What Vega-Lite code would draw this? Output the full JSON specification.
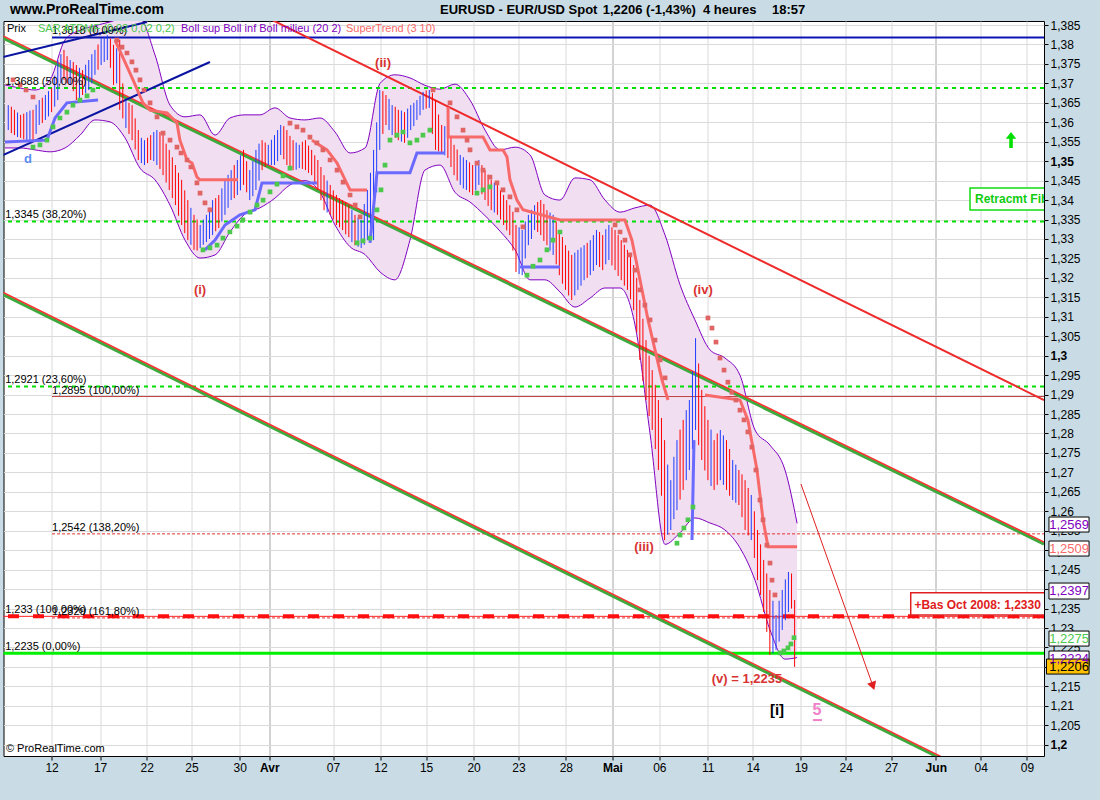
{
"$schema":"https://vega.github.io/schema/vega-lite/v6.json",
"width":1040.5,"height":735,
"autosize":{"type":"none"},
"padding":{"left":3.5,"top":21,"right":56,"bottom":44},
"background":"#c9dce5",
"view":{"fill":"white","stroke":"#000000","strokeWidth":1},
"config":{"font":"Liberation Sans","text":{"font":"Liberation Sans"},"axis":{"labelOverlap":false,"labelSeparation":0,"labelBound":false},"axisY":{"labelOverlap":false}},
"datasets":{
"bars":[
{"t":-2.8,"h":1.3644,"l":1.3580,"d":"u"},{"t":-2.4,"h":1.3632,"l":1.3567,"d":"d"},{"t":-2.0,"h":1.3619,"l":1.3560,"d":"d"},{"t":-1.6,"h":1.3626,"l":1.3554,"d":"u"},{"t":-1.2,"h":1.3632,"l":1.3554,"d":"d"},{"t":-0.8,"h":1.3657,"l":1.3593,"d":"u"},{"t":-0.4,"h":1.3670,"l":1.3606,"d":"u"},{"t":0.0,"h":1.3688,"l":1.3626,"d":"d"},{"t":0.4,"h":1.3760,"l":1.3657,"d":"u"},{"t":0.8,"h":1.3786,"l":1.3709,"d":"d"},{"t":1.2,"h":1.3760,"l":1.3696,"d":"u"},{"t":1.6,"h":1.3747,"l":1.3657,"d":"d"},{"t":2.0,"h":1.3734,"l":1.3670,"d":"d"},{"t":2.4,"h":1.3760,"l":1.3683,"d":"u"},{"t":2.8,"h":1.3786,"l":1.3722,"d":"u"},{"t":3.2,"h":1.3817,"l":1.3747,"d":"u"},{"t":3.6,"h":1.3824,"l":1.3760,"d":"u"},{"t":4.0,"h":1.3799,"l":1.3696,"d":"d"},{"t":4.4,"h":1.3812,"l":1.3632,"d":"d"},{"t":4.8,"h":1.3657,"l":1.3585,"d":"u"},{"t":5.2,"h":1.3644,"l":1.3554,"d":"d"},{"t":5.6,"h":1.3580,"l":1.3503,"d":"d"},{"t":6.0,"h":1.3554,"l":1.3490,"d":"u"},{"t":6.4,"h":1.3567,"l":1.3503,"d":"d"},{"t":6.8,"h":1.3580,"l":1.3490,"d":"u"},{"t":7.2,"h":1.3567,"l":1.3464,"d":"d"},{"t":7.6,"h":1.3529,"l":1.3426,"d":"d"},{"t":8.0,"h":1.3490,"l":1.3387,"d":"d"},{"t":8.4,"h":1.3452,"l":1.3336,"d":"d"},{"t":8.8,"h":1.3400,"l":1.3297,"d":"d"},{"t":9.2,"h":1.3362,"l":1.3272,"d":"d"},{"t":9.6,"h":1.3336,"l":1.3277,"d":"u"},{"t":10.0,"h":1.3362,"l":1.3292,"d":"u"},{"t":10.4,"h":1.3400,"l":1.3310,"d":"u"},{"t":10.8,"h":1.3413,"l":1.3328,"d":"d"},{"t":11.2,"h":1.3452,"l":1.3362,"d":"u"},{"t":11.6,"h":1.3477,"l":1.3400,"d":"u"},{"t":12.0,"h":1.3503,"l":1.3413,"d":"u"},{"t":12.4,"h":1.3529,"l":1.3439,"d":"d"},{"t":12.8,"h":1.3477,"l":1.3400,"d":"u"},{"t":13.2,"h":1.3529,"l":1.3426,"d":"u"},{"t":13.6,"h":1.3554,"l":1.3477,"d":"d"},{"t":14.0,"h":1.3542,"l":1.3490,"d":"u"},{"t":14.4,"h":1.3567,"l":1.3490,"d":"u"},{"t":14.8,"h":1.3593,"l":1.3516,"d":"u"},{"t":15.2,"h":1.3580,"l":1.3490,"d":"d"},{"t":15.6,"h":1.3554,"l":1.3477,"d":"d"},{"t":16.0,"h":1.3542,"l":1.3482,"d":"u"},{"t":16.4,"h":1.3554,"l":1.3477,"d":"d"},{"t":16.8,"h":1.3529,"l":1.3464,"d":"d"},{"t":17.2,"h":1.3503,"l":1.3426,"d":"d"},{"t":17.6,"h":1.3464,"l":1.3374,"d":"d"},{"t":18.0,"h":1.3439,"l":1.3362,"d":"d"},{"t":18.4,"h":1.3413,"l":1.3336,"d":"d"},{"t":18.8,"h":1.3400,"l":1.3323,"d":"d"},{"t":19.2,"h":1.3387,"l":1.3305,"d":"d"},{"t":19.6,"h":1.3362,"l":1.3284,"d":"d"},{"t":20.0,"h":1.3349,"l":1.3277,"d":"u"},{"t":20.4,"h":1.3426,"l":1.3297,"d":"u"},{"t":20.8,"h":1.3529,"l":1.3297,"d":"u"},{"t":21.2,"h":1.3683,"l":1.3529,"d":"u"},{"t":21.6,"h":1.3670,"l":1.3593,"d":"d"},{"t":22.0,"h":1.3644,"l":1.3567,"d":"u"},{"t":22.4,"h":1.3632,"l":1.3554,"d":"d"},{"t":22.8,"h":1.3626,"l":1.3547,"d":"d"},{"t":23.2,"h":1.3644,"l":1.3580,"d":"u"},{"t":23.6,"h":1.3657,"l":1.3606,"d":"u"},{"t":24.0,"h":1.3678,"l":1.3632,"d":"u"},{"t":24.4,"h":1.3683,"l":1.3637,"d":"u"},{"t":24.8,"h":1.3657,"l":1.3529,"d":"d"},{"t":25.2,"h":1.3593,"l":1.3521,"d":"d"},{"t":25.6,"h":1.3580,"l":1.3508,"d":"d"},{"t":26.0,"h":1.3542,"l":1.3464,"d":"d"},{"t":26.4,"h":1.3516,"l":1.3439,"d":"u"},{"t":26.8,"h":1.3503,"l":1.3426,"d":"u"},{"t":27.2,"h":1.3490,"l":1.3413,"d":"d"},{"t":27.6,"h":1.3503,"l":1.3439,"d":"u"},{"t":28.0,"h":1.3477,"l":1.3400,"d":"d"},{"t":28.4,"h":1.3452,"l":1.3374,"d":"d"},{"t":28.8,"h":1.3439,"l":1.3362,"d":"d"},{"t":29.2,"h":1.3413,"l":1.3336,"d":"d"},{"t":29.6,"h":1.3387,"l":1.3310,"d":"d"},{"t":30.0,"h":1.3336,"l":1.3215,"d":"d"},{"t":30.4,"h":1.3323,"l":1.3207,"d":"u"},{"t":30.8,"h":1.3362,"l":1.3284,"d":"u"},{"t":31.2,"h":1.3387,"l":1.3323,"d":"u"},{"t":31.6,"h":1.3400,"l":1.3310,"d":"d"},{"t":32.0,"h":1.3374,"l":1.3284,"d":"d"},{"t":32.4,"h":1.3362,"l":1.3259,"d":"u"},{"t":32.8,"h":1.3323,"l":1.3207,"d":"d"},{"t":33.2,"h":1.3284,"l":1.3169,"d":"d"},{"t":33.6,"h":1.3259,"l":1.3143,"d":"d"},{"t":34.0,"h":1.3272,"l":1.3169,"d":"u"},{"t":34.4,"h":1.3284,"l":1.3194,"d":"u"},{"t":34.8,"h":1.3297,"l":1.3207,"d":"u"},{"t":35.2,"h":1.3323,"l":1.3233,"d":"u"},{"t":35.6,"h":1.3310,"l":1.3220,"d":"d"},{"t":36.0,"h":1.3336,"l":1.3246,"d":"u"},{"t":36.4,"h":1.3323,"l":1.3220,"d":"d"},{"t":36.8,"h":1.3297,"l":1.3194,"d":"d"},{"t":37.2,"h":1.3272,"l":1.3169,"d":"d"},{"t":37.6,"h":1.3233,"l":1.3117,"d":"d"},{"t":38.0,"h":1.3143,"l":1.2989,"d":"d"},{"t":38.4,"h":1.3040,"l":1.2886,"d":"d"},{"t":38.8,"h":1.2963,"l":1.2809,"d":"d"},{"t":39.2,"h":1.2886,"l":1.2706,"d":"d"},{"t":39.6,"h":1.2783,"l":1.2526,"d":"d"},{"t":40.0,"h":1.2680,"l":1.2552,"d":"u"},{"t":40.4,"h":1.2783,"l":1.2603,"d":"u"},{"t":40.8,"h":1.2835,"l":1.2655,"d":"d"},{"t":41.2,"h":1.2886,"l":1.2706,"d":"u"},{"t":41.6,"h":1.3045,"l":1.2809,"d":"u"},{"t":42.0,"h":1.2912,"l":1.2732,"d":"d"},{"t":42.4,"h":1.2835,"l":1.2680,"d":"d"},{"t":42.8,"h":1.2783,"l":1.2655,"d":"d"},{"t":43.2,"h":1.2809,"l":1.2680,"d":"u"},{"t":43.6,"h":1.2783,"l":1.2655,"d":"d"},{"t":44.0,"h":1.2732,"l":1.2629,"d":"u"},{"t":44.4,"h":1.2706,"l":1.2616,"d":"d"},{"t":44.8,"h":1.2680,"l":1.2552,"d":"d"},{"t":45.2,"h":1.2642,"l":1.2526,"d":"u"},{"t":45.6,"h":1.2552,"l":1.2423,"d":"d"},{"t":46.0,"h":1.2475,"l":1.2341,"d":"d"},{"t":46.4,"h":1.2398,"l":1.2231,"d":"d"},{"t":46.8,"h":1.2333,"l":1.2243,"d":"u"},{"t":47.2,"h":1.2398,"l":1.2295,"d":"u"},{"t":47.6,"h":1.2444,"l":1.2341,"d":"u"},{"t":48.0,"h":1.2372,"l":1.2200,"d":"d"},
{"t":-2.6,"h":1.3640,"l":1.3572,"d":"d"},{"t":-2.2,"h":1.3625,"l":1.3562,"d":"u"},{"t":-1.8,"h":1.3622,"l":1.3556,"d":"d"},{"t":-1.4,"h":1.3630,"l":1.3552,"d":"u"},{"t":-1.0,"h":1.3645,"l":1.3570,"d":"u"},{"t":-0.6,"h":1.3663,"l":1.3598,"d":"d"},{"t":-0.2,"h":1.3680,"l":1.3615,"d":"u"},{"t":0.2,"h":1.3720,"l":1.3640,"d":"u"},{"t":0.6,"h":1.3775,"l":1.3700,"d":"u"},{"t":1.0,"h":1.3770,"l":1.3700,"d":"d"},{"t":1.4,"h":1.3755,"l":1.3680,"d":"d"},{"t":1.8,"h":1.3740,"l":1.3662,"d":"u"},{"t":2.2,"h":1.3748,"l":1.3675,"d":"u"},{"t":2.6,"h":1.3775,"l":1.3700,"d":"u"},{"t":3.0,"h":1.3800,"l":1.3735,"d":"d"},{"t":3.4,"h":1.3820,"l":1.3755,"d":"u"},{"t":3.8,"h":1.3815,"l":1.3740,"d":"d"},{"t":4.2,"h":1.3790,"l":1.3700,"d":"u"},{"t":4.6,"h":1.3700,"l":1.3610,"d":"d"},{"t":5.0,"h":1.3650,"l":1.3570,"d":"d"},{"t":5.4,"h":1.3610,"l":1.3530,"d":"d"},{"t":5.8,"h":1.3560,"l":1.3495,"d":"u"},{"t":6.2,"h":1.3560,"l":1.3495,"d":"d"},{"t":6.6,"h":1.3575,"l":1.3500,"d":"u"},{"t":7.0,"h":1.3575,"l":1.3480,"d":"d"},{"t":7.4,"h":1.3545,"l":1.3445,"d":"d"},{"t":7.8,"h":1.3510,"l":1.3405,"d":"d"},{"t":8.2,"h":1.3470,"l":1.3360,"d":"d"},{"t":8.6,"h":1.3425,"l":1.3315,"d":"d"},{"t":9.0,"h":1.3380,"l":1.3285,"d":"u"},{"t":9.4,"h":1.3350,"l":1.3270,"d":"d"},{"t":9.8,"h":1.3350,"l":1.3285,"d":"u"},{"t":10.2,"h":1.3380,"l":1.3300,"d":"u"},{"t":10.6,"h":1.3405,"l":1.3320,"d":"d"},{"t":11.0,"h":1.3430,"l":1.3345,"d":"u"},{"t":11.4,"h":1.3465,"l":1.3380,"d":"u"},{"t":11.8,"h":1.3490,"l":1.3405,"d":"d"},{"t":12.2,"h":1.3515,"l":1.3425,"d":"u"},{"t":12.6,"h":1.3500,"l":1.3420,"d":"d"},{"t":13.0,"h":1.3500,"l":1.3410,"d":"u"},{"t":13.4,"h":1.3545,"l":1.3450,"d":"u"},{"t":13.8,"h":1.3548,"l":1.3485,"d":"d"},{"t":14.2,"h":1.3555,"l":1.3490,"d":"u"},{"t":14.6,"h":1.3580,"l":1.3500,"d":"u"},{"t":15.0,"h":1.3590,"l":1.3505,"d":"d"},{"t":15.4,"h":1.3565,"l":1.3480,"d":"d"},{"t":15.8,"h":1.3548,"l":1.3478,"d":"u"},{"t":16.2,"h":1.3550,"l":1.3480,"d":"d"},{"t":16.6,"h":1.3540,"l":1.3470,"d":"d"},{"t":17.0,"h":1.3515,"l":1.3445,"d":"d"},{"t":17.4,"h":1.3485,"l":1.3400,"d":"d"},{"t":17.8,"h":1.3450,"l":1.3368,"d":"u"},{"t":18.2,"h":1.3425,"l":1.3350,"d":"d"},{"t":18.6,"h":1.3405,"l":1.3330,"d":"d"},{"t":19.0,"h":1.3395,"l":1.3312,"d":"d"},{"t":19.4,"h":1.3375,"l":1.3292,"d":"u"},{"t":19.8,"h":1.3355,"l":1.3280,"d":"u"},{"t":20.2,"h":1.3390,"l":1.3285,"d":"u"},{"t":20.6,"h":1.3470,"l":1.3300,"d":"u"},{"t":21.0,"h":1.3600,"l":1.3420,"d":"u"},{"t":21.4,"h":1.3680,"l":1.3570,"d":"d"},{"t":21.8,"h":1.3660,"l":1.3580,"d":"u"},{"t":22.2,"h":1.3640,"l":1.3560,"d":"d"},{"t":22.6,"h":1.3630,"l":1.3550,"d":"u"},{"t":23.0,"h":1.3635,"l":1.3560,"d":"u"},{"t":23.4,"h":1.3650,"l":1.3590,"d":"u"},{"t":23.8,"h":1.3668,"l":1.3618,"d":"u"},{"t":24.2,"h":1.3682,"l":1.3635,"d":"d"},{"t":24.6,"h":1.3675,"l":1.3570,"d":"d"},{"t":25.0,"h":1.3620,"l":1.3525,"d":"d"},{"t":25.4,"h":1.3590,"l":1.3515,"d":"u"},{"t":25.8,"h":1.3565,"l":1.3485,"d":"d"},{"t":26.2,"h":1.3530,"l":1.3450,"d":"d"},{"t":26.6,"h":1.3510,"l":1.3430,"d":"u"},{"t":27.0,"h":1.3497,"l":1.3420,"d":"d"},{"t":27.4,"h":1.3500,"l":1.3425,"d":"u"},{"t":27.8,"h":1.3490,"l":1.3415,"d":"d"},{"t":28.2,"h":1.3465,"l":1.3385,"d":"d"},{"t":28.6,"h":1.3445,"l":1.3368,"d":"u"},{"t":29.0,"h":1.3425,"l":1.3350,"d":"d"},{"t":29.4,"h":1.3400,"l":1.3322,"d":"d"},{"t":29.8,"h":1.3370,"l":1.3270,"d":"d"},{"t":30.2,"h":1.3330,"l":1.3210,"d":"u"},{"t":30.6,"h":1.3345,"l":1.3250,"d":"u"},{"t":31.0,"h":1.3375,"l":1.3300,"d":"u"},{"t":31.4,"h":1.3395,"l":1.3318,"d":"d"},{"t":31.8,"h":1.3390,"l":1.3295,"d":"d"},{"t":32.2,"h":1.3368,"l":1.3270,"d":"u"},{"t":32.6,"h":1.3345,"l":1.3235,"d":"d"},{"t":33.0,"h":1.3305,"l":1.3185,"d":"d"},{"t":33.4,"h":1.3270,"l":1.3155,"d":"d"},{"t":33.8,"h":1.3265,"l":1.3155,"d":"u"},{"t":34.2,"h":1.3278,"l":1.3180,"d":"u"},{"t":34.6,"h":1.3290,"l":1.3200,"d":"d"},{"t":35.0,"h":1.3310,"l":1.3218,"d":"u"},{"t":35.4,"h":1.3318,"l":1.3228,"d":"d"},{"t":35.8,"h":1.3325,"l":1.3235,"d":"u"},{"t":36.2,"h":1.3330,"l":1.3232,"d":"d"},{"t":36.6,"h":1.3310,"l":1.3205,"d":"d"},{"t":37.0,"h":1.3285,"l":1.3180,"d":"d"},{"t":37.4,"h":1.3255,"l":1.3145,"d":"d"},{"t":37.8,"h":1.3200,"l":1.3060,"d":"d"},{"t":38.2,"h":1.3095,"l":1.2935,"d":"d"},{"t":38.6,"h":1.3000,"l":1.2845,"d":"d"},{"t":39.0,"h":1.2925,"l":1.2760,"d":"d"},{"t":39.4,"h":1.2840,"l":1.2640,"d":"d"},{"t":39.8,"h":1.2720,"l":1.2540,"d":"u"},{"t":40.2,"h":1.2740,"l":1.2580,"d":"u"},{"t":40.6,"h":1.2810,"l":1.2630,"d":"d"},{"t":41.0,"h":1.2860,"l":1.2680,"d":"u"},{"t":41.4,"h":1.2960,"l":1.2760,"d":"u"},{"t":41.8,"h":1.2980,"l":1.2770,"d":"d"},{"t":42.2,"h":1.2870,"l":1.2705,"d":"d"},{"t":42.6,"h":1.2810,"l":1.2665,"d":"u"},{"t":43.0,"h":1.2800,"l":1.2668,"d":"d"},{"t":43.4,"h":1.2795,"l":1.2668,"d":"u"},{"t":43.8,"h":1.2760,"l":1.2640,"d":"d"},{"t":44.2,"h":1.2720,"l":1.2622,"d":"u"},{"t":44.6,"h":1.2695,"l":1.2585,"d":"d"},{"t":45.0,"h":1.2660,"l":1.2538,"d":"d"},{"t":45.4,"h":1.2600,"l":1.2480,"d":"d"},{"t":45.8,"h":1.2515,"l":1.2385,"d":"d"},{"t":46.2,"h":1.2440,"l":1.2290,"d":"d"},{"t":46.6,"h":1.2370,"l":1.2235,"d":"u"},{"t":47.0,"h":1.2370,"l":1.2265,"d":"u"},{"t":47.4,"h":1.2425,"l":1.2320,"d":"u"},{"t":47.8,"h":1.2440,"l":1.2350,"d":"d"}
],
"bands":[
{"t":-3.01,"up":1.3696,"lo":1.3534},{"t":-2.04,"up":1.3688,"lo":1.3534},{"t":-1.07,"up":1.3683,"lo":1.3529},{"t":-0.10,"up":1.3709,"lo":1.3524},{"t":0.87,"up":1.3812,"lo":1.3534},{"t":1.84,"up":1.3837,"lo":1.3567},{"t":2.80,"up":1.3848,"lo":1.3606},{"t":3.77,"up":1.3858,"lo":1.3601},{"t":4.74,"up":1.3868,"lo":1.3560},{"t":5.71,"up":1.3866,"lo":1.3482},{"t":6.68,"up":1.3773,"lo":1.3452},{"t":7.65,"up":1.3644,"lo":1.3387},{"t":8.62,"up":1.3614,"lo":1.3297},{"t":9.59,"up":1.3619,"lo":1.3251},{"t":10.56,"up":1.3567,"lo":1.3259},{"t":11.52,"up":1.3611,"lo":1.3318},{"t":12.49,"up":1.3619,"lo":1.3364},{"t":13.46,"up":1.3619,"lo":1.3380},{"t":14.43,"up":1.3637,"lo":1.3405},{"t":15.40,"up":1.3611,"lo":1.3439},{"t":16.37,"up":1.3606,"lo":1.3450},{"t":17.34,"up":1.3611,"lo":1.3420},{"t":18.31,"up":1.3575,"lo":1.3336},{"t":19.28,"up":1.3521,"lo":1.3280},{"t":20.25,"up":1.3534,"lo":1.3260},{"t":21.22,"up":1.3700,"lo":1.3215},{"t":22.18,"up":1.3722,"lo":1.3195},{"t":23.15,"up":1.3714,"lo":1.3297},{"t":24.12,"up":1.3695,"lo":1.3477},{"t":25.09,"up":1.3685,"lo":1.3490},{"t":26.06,"up":1.3698,"lo":1.3420},{"t":27.03,"up":1.3657,"lo":1.3395},{"t":28.00,"up":1.3580,"lo":1.3360},{"t":28.97,"up":1.3529,"lo":1.3320},{"t":29.94,"up":1.3536,"lo":1.3272},{"t":30.91,"up":1.3516,"lo":1.3195},{"t":31.87,"up":1.3413,"lo":1.3195},{"t":32.84,"up":1.3400,"lo":1.3164},{"t":33.81,"up":1.3457,"lo":1.3125},{"t":34.78,"up":1.3452,"lo":1.3148},{"t":35.75,"up":1.3400,"lo":1.3174},{"t":36.72,"up":1.3369,"lo":1.3174},{"t":37.69,"up":1.3380,"lo":1.3079},{"t":38.66,"up":1.3387,"lo":1.2800},{"t":39.63,"up":1.3310,"lo":1.2515},{"t":40.60,"up":1.3182,"lo":1.2545},{"t":41.56,"up":1.3092,"lo":1.2583},{"t":42.53,"up":1.3015,"lo":1.2570},{"t":43.50,"up":1.2994,"lo":1.2552},{"t":44.47,"up":1.2950,"lo":1.2506},{"t":45.44,"up":1.2809,"lo":1.2423},{"t":46.41,"up":1.2770,"lo":1.2295},{"t":47.38,"up":1.2706,"lo":1.2220},{"t":48.16,"up":1.2569,"lo":1.2224}
],
"st":[
{"t":4.10,"v":1.3811,"s":"S2","k":"dn"},{"t":5.26,"v":1.3709,"s":"S2","k":"dn"},{"t":5.90,"v":1.3650,"s":"S2","k":"dn"},{"t":6.36,"v":1.3631,"s":"S2","k":"dn"},{"t":7.46,"v":1.3624,"s":"S2","k":"dn"},{"t":8.10,"v":1.3598,"s":"S2","k":"dn"},{"t":8.29,"v":1.3554,"s":"S2","k":"dn"},{"t":8.75,"v":1.3503,"s":"S2","k":"dn"},{"t":9.07,"v":1.3495,"s":"S2","k":"dn"},{"t":9.39,"v":1.3459,"s":"S2","k":"dn"},{"t":9.59,"v":1.3452,"s":"S2","k":"dn"},{"t":12.04,"v":1.3452,"s":"S2","k":"dn"},
{"t":16.82,"v":1.3554,"s":"S3","k":"dn"},{"t":17.79,"v":1.3529,"s":"S3","k":"dn"},{"t":18.44,"v":1.3495,"s":"S3","k":"dn"},{"t":18.96,"v":1.3452,"s":"S3","k":"dn"},{"t":19.28,"v":1.3426,"s":"S3","k":"dn"},{"t":20.38,"v":1.3426,"s":"S3","k":"dn"},
{"t":25.61,"v":1.3639,"s":"S4","k":"dn"},{"t":25.62,"v":1.3562,"s":"S4","k":"dn"},{"t":27.87,"v":1.3562,"s":"S4","k":"dn"},{"t":28.32,"v":1.3529,"s":"S4","k":"dn"},{"t":29.16,"v":1.3529,"s":"S4","k":"dn"},{"t":29.42,"v":1.3511,"s":"S4","k":"dn"},{"t":29.61,"v":1.3452,"s":"S4","k":"dn"},{"t":30.06,"v":1.3400,"s":"S4","k":"dn"},{"t":30.45,"v":1.3375,"s":"S4","k":"dn"},{"t":32.84,"v":1.3349,"s":"S4","k":"dn"},{"t":37.04,"v":1.3349,"s":"S4","k":"dn"},{"t":37.49,"v":1.3297,"s":"S4","k":"dn"},{"t":38.01,"v":1.3195,"s":"S4","k":"dn"},{"t":38.53,"v":1.3092,"s":"S4","k":"dn"},{"t":38.98,"v":1.3015,"s":"S4","k":"dn"},{"t":39.43,"v":1.2938,"s":"S4","k":"dn"},{"t":39.82,"v":1.2886,"s":"S4","k":"dn"},
{"t":42.21,"v":1.2899,"s":"S5","k":"dn"},{"t":44.47,"v":1.2886,"s":"S5","k":"dn"},{"t":44.98,"v":1.2835,"s":"S5","k":"dn"},{"t":45.57,"v":1.2706,"s":"S5","k":"dn"},{"t":45.96,"v":1.2578,"s":"S5","k":"dn"},{"t":46.28,"v":1.2509,"s":"S5","k":"dn"},{"t":48.16,"v":1.2509,"s":"S5","k":"dn"},
{"t":-3.01,"v":1.3549,"s":"B1","k":"up"},{"t":-0.30,"v":1.3554,"s":"B1","k":"up"},{"t":0.22,"v":1.3611,"s":"B1","k":"up"},{"t":0.99,"v":1.3650,"s":"B1","k":"up"},{"t":3.00,"v":1.3657,"s":"B1","k":"up"},
{"t":9.91,"v":1.3272,"s":"B2","k":"up"},{"t":10.56,"v":1.3297,"s":"B2","k":"up"},{"t":11.20,"v":1.3336,"s":"B2","k":"up"},{"t":12.17,"v":1.3362,"s":"B2","k":"up"},{"t":13.14,"v":1.3375,"s":"B2","k":"up"},{"t":13.59,"v":1.3444,"s":"B2","k":"up"},{"t":17.14,"v":1.3444,"s":"B2","k":"up"},
{"t":20.57,"v":1.3290,"s":"B3","k":"up"},{"t":21.02,"v":1.3470,"s":"B3","k":"up"},{"t":23.15,"v":1.3470,"s":"B3","k":"up"},{"t":23.60,"v":1.3521,"s":"B3","k":"up"},{"t":25.41,"v":1.3521,"s":"B3","k":"up"},
{"t":30.26,"v":1.3228,"s":"B4","k":"up"},{"t":32.84,"v":1.3228,"s":"B4","k":"up"},
{"t":41.37,"v":1.2526,"s":"B5","k":"up"},{"t":41.50,"v":1.2783,"s":"B5","k":"up"}
],
"sar":[
{"t":-1.20,"v":1.3536,"k":"g"},{"t":-0.75,"v":1.3542,"k":"g"},{"t":-0.30,"v":1.3554,"k":"g"},{"t":0.09,"v":1.3588,"k":"g"},{"t":0.54,"v":1.3611,"k":"g"},{"t":0.99,"v":1.3626,"k":"g"},{"t":1.38,"v":1.3644,"k":"g"},{"t":1.83,"v":1.3657,"k":"g"},{"t":2.29,"v":1.3668,"k":"g"},{"t":2.67,"v":1.3683,"k":"g"},
{"t":9.78,"v":1.3272,"k":"g"},{"t":10.23,"v":1.3277,"k":"g"},{"t":10.69,"v":1.3284,"k":"g"},{"t":11.07,"v":1.3302,"k":"g"},{"t":11.52,"v":1.3318,"k":"g"},{"t":11.98,"v":1.3333,"k":"g"},{"t":12.36,"v":1.3349,"k":"g"},{"t":12.82,"v":1.3369,"k":"g"},{"t":13.27,"v":1.3387,"k":"g"},{"t":13.66,"v":1.3400,"k":"g"},{"t":14.11,"v":1.3421,"k":"g"},{"t":14.56,"v":1.3441,"k":"g"},{"t":14.95,"v":1.3462,"k":"g"},{"t":15.40,"v":1.3482,"k":"g"},
{"t":19.74,"v":1.3290,"k":"g"},{"t":20.12,"v":1.3295,"k":"g"},{"t":20.57,"v":1.3302,"k":"g"},{"t":21.02,"v":1.3375,"k":"g"},{"t":21.28,"v":1.3426,"k":"g"},{"t":21.54,"v":1.3490,"k":"g"},{"t":21.86,"v":1.3554,"k":"g"},{"t":22.31,"v":1.3567,"k":"g"},{"t":22.70,"v":1.3575,"k":"g"},{"t":23.15,"v":1.3547,"k":"g"},{"t":23.60,"v":1.3554,"k":"g"},{"t":23.99,"v":1.3567,"k":"g"},{"t":24.44,"v":1.3580,"k":"g"},
{"t":27.48,"v":1.3418,"k":"g"},{"t":27.87,"v":1.3426,"k":"g"},{"t":28.32,"v":1.3434,"k":"g"},
{"t":30.71,"v":1.3207,"k":"g"},{"t":31.10,"v":1.3230,"k":"g"},{"t":31.55,"v":1.3246,"k":"g"},{"t":32.00,"v":1.3272,"k":"g"},{"t":32.39,"v":1.3297,"k":"g"},{"t":32.84,"v":1.3318,"k":"g"},
{"t":40.40,"v":1.2518,"k":"g"},{"t":40.60,"v":1.2539,"k":"g"},{"t":40.85,"v":1.2557,"k":"g"},{"t":41.11,"v":1.2578,"k":"g"},{"t":41.43,"v":1.2611,"k":"g"},
{"t":47.06,"v":1.2236,"k":"g"},{"t":47.31,"v":1.2241,"k":"g"},{"t":47.57,"v":1.2249,"k":"g"},{"t":47.76,"v":1.2259,"k":"g"},{"t":47.96,"v":1.2275,"k":"g"},
{"t":-2.49,"v":1.3709,"k":"r"},{"t":-2.04,"v":1.3696,"k":"r"},{"t":-1.65,"v":1.3683,"k":"r"},{"t":-1.20,"v":1.3665,"k":"r"},
{"t":4.22,"v":1.3811,"k":"r"},{"t":4.55,"v":1.3793,"k":"r"},{"t":4.87,"v":1.3778,"k":"r"},{"t":5.19,"v":1.3755,"k":"r"},{"t":5.45,"v":1.3734,"k":"r"},{"t":5.71,"v":1.3709,"k":"r"},{"t":5.97,"v":1.3683,"k":"r"},{"t":6.36,"v":1.3650,"k":"r"},{"t":6.81,"v":1.3614,"k":"r"},{"t":7.20,"v":1.3572,"k":"r"},{"t":7.65,"v":1.3554,"k":"r"},{"t":8.10,"v":1.3536,"k":"r"},{"t":8.36,"v":1.3521,"k":"r"},{"t":8.75,"v":1.3503,"k":"r"},{"t":9.00,"v":1.3485,"k":"r"},{"t":9.39,"v":1.3444,"k":"r"},{"t":9.59,"v":1.3418,"k":"r"},{"t":9.91,"v":1.3393,"k":"r"},{"t":10.23,"v":1.3375,"k":"r"},
{"t":15.40,"v":1.3598,"k":"r"},{"t":15.85,"v":1.3588,"k":"r"},{"t":16.24,"v":1.3580,"k":"r"},{"t":16.69,"v":1.3562,"k":"r"},{"t":17.14,"v":1.3547,"k":"r"},{"t":17.53,"v":1.3529,"k":"r"},{"t":17.99,"v":1.3503,"k":"r"},{"t":18.44,"v":1.3477,"k":"r"},{"t":18.83,"v":1.3446,"k":"r"},{"t":19.28,"v":1.3413,"k":"r"},{"t":19.61,"v":1.3387,"k":"r"},{"t":19.93,"v":1.3357,"k":"r"},
{"t":24.64,"v":1.3683,"k":"r"},{"t":25.74,"v":1.3650,"k":"r"},{"t":26.19,"v":1.3614,"k":"r"},{"t":26.58,"v":1.3580,"k":"r"},{"t":26.84,"v":1.3554,"k":"r"},{"t":27.03,"v":1.3529,"k":"r"},{"t":27.48,"v":1.3495,"k":"r"},{"t":27.87,"v":1.3477,"k":"r"},{"t":28.32,"v":1.3459,"k":"r"},{"t":28.77,"v":1.3444,"k":"r"},{"t":29.16,"v":1.3426,"k":"r"},{"t":29.61,"v":1.3408,"k":"r"},{"t":30.06,"v":1.3375,"k":"r"},{"t":30.45,"v":1.3331,"k":"r"},
{"t":36.40,"v":1.3336,"k":"r"},{"t":36.72,"v":1.3318,"k":"r"},{"t":37.04,"v":1.3297,"k":"r"},{"t":37.36,"v":1.3259,"k":"r"},{"t":37.69,"v":1.3220,"k":"r"},{"t":38.01,"v":1.3169,"k":"r"},{"t":38.33,"v":1.3130,"k":"r"},{"t":38.66,"v":1.3092,"k":"r"},{"t":38.98,"v":1.3040,"k":"r"},{"t":39.31,"v":1.2989,"k":"r"},{"t":39.63,"v":1.2943,"k":"r"},
{"t":42.40,"v":1.3097,"k":"r"},{"t":42.66,"v":1.3071,"k":"r"},{"t":42.92,"v":1.3035,"k":"r"},{"t":43.18,"v":1.2994,"k":"r"},{"t":43.44,"v":1.2963,"k":"r"},{"t":43.69,"v":1.2932,"k":"r"},{"t":43.95,"v":1.2906,"k":"r"},{"t":44.21,"v":1.2886,"k":"r"},{"t":44.47,"v":1.2860,"k":"r"},{"t":44.73,"v":1.2835,"k":"r"},{"t":44.98,"v":1.2804,"k":"r"},{"t":45.24,"v":1.2765,"k":"r"},{"t":45.50,"v":1.2706,"k":"r"},{"t":45.76,"v":1.2629,"k":"r"},{"t":45.96,"v":1.2578,"k":"r"},{"t":46.21,"v":1.2513,"k":"r"},{"t":46.41,"v":1.2467,"k":"r"},{"t":46.54,"v":1.2423,"k":"r"},{"t":46.73,"v":1.2385,"k":"r"}
],
"tl":[
{"t":-3.14,"v":1.38192,"id":"ch1"},{"t":64.11,"v":1.25184,"id":"ch1"},
{"t":-3.33,"v":1.31637,"id":"ch2"},{"t":57.78,"v":1.19605,"id":"ch2"},
{"t":13.72,"v":1.38732,"id":"red"},{"t":64.11,"v":1.28860,"id":"red"},
{"t":-3.14,"v":1.35158,"id":"blue1"},{"t":10.23,"v":1.37549,"id":"blue1"},
{"t":-3.14,"v":1.37678,"id":"blue2"},{"t":6.16,"v":1.38577,"id":"blue2"},
{"t":48.41,"v":1.26701,"id":"arrow"},{"t":53.06,"v":1.21508,"id":"arrow"}
]
},
"layer":[
{"data":{"name":"bands"},"mark":{"type":"area","interpolate":"monotone","color":"#f1dff1","clip":true},
 "encoding":{
  "x":{"field":"t","type":"quantitative","scale":{"domain":[-3.107,64.11],"nice":false,"zero":false},
   "axis":{"title":null,"domain":false,"grid":true,
    "values":[0,3.13,6.14,9.04,12.15,14.07,18.18,21.25,24.19,27.26,30.16,33.22,36.23,39.26,42.39,45.29,48.4,51.3,54.23,57.12,60.02,63.01],
    "labelExpr":"['12','17','22','25','30','Avr','07','12','15','20','23','28','Mai','06','11','14','19','24','27','Jun','04','09'][indexof([0,3.13,6.14,9.04,12.15,14.07,18.18,21.25,24.19,27.26,30.16,33.22,36.23,39.26,42.39,45.29,48.4,51.3,54.23,57.12,60.02,63.01],datum.value)]",
    "gridColor":{"condition":{"test":"datum.value==14.07||datum.value==36.23||datum.value==57.12","value":"#a6a6a6"},"value":"#dadada"},
    "labelFontWeight":{"condition":{"test":"datum.value==14.07||datum.value==36.23||datum.value==57.12","value":"bold"},"value":"normal"},
    "labelFontSize":12,"labelColor":"#000000","tickColor":"#000000","tickSize":4,"labelPadding":2,"labelOverlap":false,"labelFlush":false,"labelFont":"Liberation Sans"}},
  "y":{"field":"up","type":"quantitative","scale":{"domain":[1.1971,1.38603],"nice":false,"zero":false},
   "axis":{"orient":"right","title":null,"domain":false,"grid":true,"gridColor":"#dadada","tickCount":40,
    "values":[1.2,1.205,1.21,1.215,1.22,1.225,1.23,1.235,1.24,1.245,1.25,1.255,1.26,1.265,1.27,1.275,1.28,1.285,1.29,1.295,1.3,1.305,1.31,1.315,1.32,1.325,1.33,1.335,1.34,1.345,1.35,1.355,1.36,1.365,1.37,1.375,1.38,1.385],
    "labelExpr":"replace(format(datum.value,'.3~f'),'.',',')",
    "labelFontWeight":{"condition":{"test":"abs(datum.value*20-round(datum.value*20))<0.0001","value":"bold"},"value":"normal"},
    "labelFontSize":12,"labelColor":"#000000","tickColor":"#000000","tickSize":4,"labelPadding":2,"labelOverlap":false,"labelSeparation":0,"labelFont":"Liberation Sans"}},
  "y2":{"field":"lo"}}},
{"data":{"name":"bands"},"mark":{"type":"line","interpolate":"monotone","color":"#8000c0","strokeWidth":1,"clip":true},
 "encoding":{"x":{"field":"t","type":"quantitative"},"y":{"field":"up","type":"quantitative"}}},
{"data":{"name":"bands"},"mark":{"type":"line","interpolate":"monotone","color":"#8000c0","strokeWidth":1,"clip":true},
 "encoding":{"x":{"field":"t","type":"quantitative"},"y":{"field":"lo","type":"quantitative"}}},
{"data":{"values":[{"v":1.3688},{"v":1.3345},{"v":1.2921}]},"mark":{"type":"rule","color":"#00e000","strokeWidth":2,"strokeDash":[4,4]},
 "encoding":{"y":{"field":"v","type":"quantitative"}}},
{"data":{"values":[{"a":0.03,"b":64.11,"v":1.3818}]},"mark":{"type":"rule","color":"#0a14b4","strokeWidth":2},
 "encoding":{"x":{"field":"a","type":"quantitative"},"x2":{"field":"b"},"y":{"field":"v","type":"quantitative"}}},
{"data":{"values":[{"a":0.03,"b":64.11,"v":1.2895}]},"mark":{"type":"rule","color":"#c04040","strokeWidth":1},
 "encoding":{"x":{"field":"a","type":"quantitative"},"x2":{"field":"b"},"y":{"field":"v","type":"quantitative"}}},
{"data":{"values":[{"a":0.03,"b":64.11,"v":1.2542},{"a":0.03,"b":64.11,"v":1.2326}]},"mark":{"type":"rule","color":"#e03030","strokeWidth":1,"strokeDash":[3,2]},
 "encoding":{"x":{"field":"a","type":"quantitative"},"x2":{"field":"b"},"y":{"field":"v","type":"quantitative"}}},
{"data":{"values":[{"v":1.2330}]},"mark":{"type":"rule","color":"#ff2020","strokeWidth":1},
 "encoding":{"y":{"field":"v","type":"quantitative"}}},
{"data":{"values":[{"v":1.2330}]},"mark":{"type":"rule","color":"#ff1010","strokeWidth":4,"strokeDash":[11,14]},
 "encoding":{"y":{"field":"v","type":"quantitative"}}},
{"data":{"values":[{"v":1.2235}]},"mark":{"type":"rule","color":"#00f000","strokeWidth":3},
 "encoding":{"y":{"field":"v","type":"quantitative"}}},
{"data":{"name":"tl"},"transform":[{"filter":"datum.id=='ch1'||datum.id=='ch2'"}],"mark":{"type":"line","color":"#3caa3c","strokeWidth":3,"yOffset":1,"clip":true},
 "encoding":{"x":{"field":"t","type":"quantitative"},"y":{"field":"v","type":"quantitative"},"detail":{"field":"id"}}},
{"data":{"name":"tl"},"transform":[{"filter":"datum.id=='ch1'||datum.id=='ch2'"}],"mark":{"type":"line","color":"#ff3030","strokeWidth":1.5,"yOffset":-1,"clip":true},
 "encoding":{"x":{"field":"t","type":"quantitative"},"y":{"field":"v","type":"quantitative"},"detail":{"field":"id"}}},
{"data":{"name":"tl"},"transform":[{"filter":"datum.id=='red'"}],"mark":{"type":"line","color":"#ee2a2a","strokeWidth":2,"clip":true},
 "encoding":{"x":{"field":"t","type":"quantitative"},"y":{"field":"v","type":"quantitative"}}},
{"data":{"name":"tl"},"transform":[{"filter":"datum.id=='blue1'||datum.id=='blue2'"}],"mark":{"type":"line","color":"#0a14a0","strokeWidth":2,"clip":true},
 "encoding":{"x":{"field":"t","type":"quantitative"},"y":{"field":"v","type":"quantitative"},"detail":{"field":"id"}}},
{"data":{"name":"tl"},"transform":[{"filter":"datum.id=='arrow'"}],"mark":{"type":"line","color":"#e02020","strokeWidth":1,"clip":true},
 "encoding":{"x":{"field":"t","type":"quantitative"},"y":{"field":"v","type":"quantitative"}}},
{"data":{"values":[{"t":53.06,"v":1.21508}]},"mark":{"type":"point","shape":"triangle-down","angle":-19,"filled":true,"color":"#e02020","size":90,"opacity":1},
 "encoding":{"x":{"field":"t","type":"quantitative"},"y":{"field":"v","type":"quantitative"}}},
{"data":{"name":"bars"},"mark":{"type":"rule","strokeWidth":1,"clip":true},
 "encoding":{"x":{"field":"t","type":"quantitative"},"y":{"field":"h","type":"quantitative"},"y2":{"field":"l"},
  "color":{"condition":{"test":"datum.d=='u'","value":"#1e3cff"},"value":"#ff0000"}}},
{"data":{"name":"st"},"transform":[{"filter":"datum.k=='dn'"}],"mark":{"type":"line","color":"#f86a6a","strokeWidth":3,"clip":true},
 "encoding":{"x":{"field":"t","type":"quantitative"},"y":{"field":"v","type":"quantitative"},"detail":{"field":"s"}}},
{"data":{"name":"st"},"transform":[{"filter":"datum.k=='up'"}],"mark":{"type":"line","color":"#6a6aff","strokeWidth":3,"clip":true},
 "encoding":{"x":{"field":"t","type":"quantitative"},"y":{"field":"v","type":"quantitative"},"detail":{"field":"s"}}},
{"data":{"name":"sar"},"transform":[{"filter":"datum.k=='g'"}],"mark":{"type":"square","color":"#4cc84c","size":22,"opacity":1,"clip":true},
 "encoding":{"x":{"field":"t","type":"quantitative"},"y":{"field":"v","type":"quantitative"}}},
{"data":{"name":"sar"},"transform":[{"filter":"datum.k=='r'"}],"mark":{"type":"square","color":"#e06464","size":22,"opacity":1,"clip":true},
 "encoding":{"x":{"field":"t","type":"quantitative"},"y":{"field":"v","type":"quantitative"}}},
{"data":{"values":[
 {"lx":0.03,"v":1.3818,"txt":"1,3818 (0,00%)"},{"lx":-3.0,"v":1.3688,"txt":"1,3688 (50,00%)"},{"lx":-3.0,"v":1.3345,"txt":"1,3345 (38,20%)"},{"lx":-3.0,"v":1.2921,"txt":"1,2921 (23,60%)"},{"lx":0.03,"v":1.2895,"txt":"1,2895 (100,00%)"},{"lx":0.03,"v":1.2542,"txt":"1,2542 (138,20%)"},{"lx":-3.0,"v":1.2330,"txt":"1,233 (100,00%)"},{"lx":0.03,"v":1.2326,"txt":"1,2329 (161,80%)"},{"lx":-3.0,"v":1.2235,"txt":"1,2235 (0,00%)"}]},
 "mark":{"type":"text","align":"left","baseline":"bottom","dy":-1,"fontSize":11,"color":"#000000"},
 "encoding":{"x":{"field":"lx","type":"quantitative"},"y":{"field":"v","type":"quantitative"},"text":{"field":"txt"}}},
{"data":{"values":[{"t":9.59,"v":1.31688,"txt":"(i)"},{"t":21.41,"v":1.37524,"txt":"(ii)"},{"t":38.27,"v":1.25081,"txt":"(iii)"},{"t":42.08,"v":1.31688,"txt":"(iv)"},{"t":44.92,"v":1.21689,"txt":"(v) = 1,2235"}]},
 "mark":{"type":"text","align":"center","baseline":"middle","fontSize":13,"fontWeight":"bold","color":"#d83232"},
 "encoding":{"x":{"field":"t","type":"quantitative"},"y":{"field":"v","type":"quantitative"},"text":{"field":"txt"}}},
{"data":{"values":[{"t":46.86,"v":1.20891,"txt":"[i]"}]},
 "mark":{"type":"text","align":"center","baseline":"middle","fontSize":15,"fontWeight":"bold","color":"#000000"},
 "encoding":{"x":{"field":"t","type":"quantitative"},"y":{"field":"v","type":"quantitative"},"text":{"field":"txt"}}},
{"data":{"values":[{"t":49.45,"v":1.20891,"txt":"5"}]},
 "mark":{"type":"text","align":"center","baseline":"middle","fontSize":16,"fontWeight":"bold","color":"#f080c8"},
 "encoding":{"x":{"field":"t","type":"quantitative"},"y":{"field":"v","type":"quantitative"},"text":{"field":"txt"}}},
{"data":{"values":[{"a":49.18,"b":49.77,"v":1.20634}]},"mark":{"type":"rule","color":"#f080c8","strokeWidth":2},
 "encoding":{"x":{"field":"a","type":"quantitative"},"x2":{"field":"b"},"y":{"field":"v","type":"quantitative"}}},
{"data":{"values":[{"t":-1.52,"v":1.35056,"txt":"d"}]},
 "mark":{"type":"text","align":"center","baseline":"middle","fontSize":13,"fontWeight":"bold","color":"#5a8cf0"},
 "encoding":{"x":{"field":"t","type":"quantitative"},"y":{"field":"v","type":"quantitative"},"text":{"field":"txt"}}},
{"data":{"values":[{"a":59.33,"b":64.6,"v1":1.3431,"v2":1.33745}]},"mark":{"type":"rect","fill":"white","stroke":"#10dd10","strokeWidth":1.5,"clip":true},
 "encoding":{"x":{"field":"a","type":"quantitative"},"x2":{"field":"b"},"y":{"field":"v1","type":"quantitative"},"y2":{"field":"v2"}}},
{"data":{"values":[{"t":59.65,"v":1.34027,"txt":"Retracmt Fibo"}]},
 "mark":{"type":"text","align":"left","baseline":"middle","fontSize":12,"fontWeight":"bold","color":"#10cc10","clip":true},
 "encoding":{"x":{"field":"t","type":"quantitative"},"y":{"field":"v","type":"quantitative"},"text":{"field":"txt"}}},
{"data":{"values":[{"a":55.5,"b":64.6,"v1":1.23907,"v2":1.23334}]},"mark":{"type":"rect","fill":"white","stroke":"#e02020","strokeWidth":1.5,"clip":true},
 "encoding":{"x":{"field":"a","type":"quantitative"},"x2":{"field":"b"},"y":{"field":"v1","type":"quantitative"},"y2":{"field":"v2"}}},
{"data":{"values":[{"t":55.74,"v":1.2359,"txt":"+Bas Oct 2008: 1,2330"}]},
 "mark":{"type":"text","align":"left","baseline":"middle","fontSize":12,"fontWeight":"bold","color":"#e02020","clip":true},
 "encoding":{"x":{"field":"t","type":"quantitative"},"y":{"field":"v","type":"quantitative"},"text":{"field":"txt"}}},
{"data":{"values":[{"t":61.98,"v":1.35544}]},"mark":{"type":"point","shape":"M0,-1L0.65,-0.15L0.22,-0.15L0.22,1L-0.22,1L-0.22,-0.15L-0.65,-0.15Z","filled":true,"color":"#00e000","size":260,"opacity":1},
 "encoding":{"x":{"field":"t","type":"quantitative"},"y":{"field":"v","type":"quantitative"}}},
{"data":{"values":[{"t":-2.88,"v":1.38398,"txt":"Prix"}]},"mark":{"type":"text","align":"left","baseline":"middle","fontSize":11,"color":"#000000"},
 "encoding":{"x":{"field":"t","type":"quantitative"},"y":{"field":"v","type":"quantitative"},"text":{"field":"txt"}}},
{"data":{"values":[{"t":-0.88,"v":1.38398,"txt":"SAR ATDMF (0,02 0,02 0,2)"}]},"mark":{"type":"text","align":"left","baseline":"middle","fontSize":11,"color":"#4cc84c"},
 "encoding":{"x":{"field":"t","type":"quantitative"},"y":{"field":"v","type":"quantitative"},"text":{"field":"txt"}}},
{"data":{"values":[{"t":8.36,"v":1.38398,"txt":"Boll sup Boll inf Boll milieu (20 2)"}]},"mark":{"type":"text","align":"left","baseline":"middle","fontSize":11,"color":"#8000c0"},
 "encoding":{"x":{"field":"t","type":"quantitative"},"y":{"field":"v","type":"quantitative"},"text":{"field":"txt"}}},
{"data":{"values":[{"t":19.02,"v":1.38398,"txt":"SuperTrend (3 10)"}]},"mark":{"type":"text","align":"left","baseline":"middle","fontSize":11,"color":"#f86a6a"},
 "encoding":{"x":{"field":"t","type":"quantitative"},"y":{"field":"v","type":"quantitative"},"text":{"field":"txt"}}},
{"data":{"values":[{"t":-2.95,"v":1.19888,"txt":"© ProRealTime.com"}]},"mark":{"type":"text","align":"left","baseline":"middle","fontSize":11,"color":"#000000"},
 "encoding":{"x":{"field":"t","type":"quantitative"},"y":{"field":"v","type":"quantitative"},"text":{"field":"txt"}}},
{"data":{"values":[{"t":-2.69,"v":1.38886,"txt":"www.ProRealTime.com"}]},"mark":{"type":"text","align":"left","baseline":"middle","fontSize":14,"fontWeight":"bold","color":"#000000"},
 "encoding":{"x":{"field":"t","type":"quantitative"},"y":{"field":"v","type":"quantitative"},"text":{"field":"txt"}}},
{"data":{"values":[{"t":25.09,"v":1.38886,"txt":"EURUSD - EUR/USD Spot"},{"t":35.6,"v":1.38886,"txt":"1,2206 (-1,43%)"},{"t":42.08,"v":1.38886,"txt":"4 heures"},{"t":46.54,"v":1.38886,"txt":"18:57"}]},
 "mark":{"type":"text","align":"left","baseline":"middle","fontSize":13,"fontWeight":"bold","color":"#000000"},
 "encoding":{"x":{"field":"t","type":"quantitative"},"y":{"field":"v","type":"quantitative"},"text":{"field":"txt"}}},
{"data":{"values":[
 {"a":64.43,"b":67.02,"v1":1.25853,"v2":1.25467,"c":1.2566,"txt":"1,2569","ind":"boll"},
 {"a":64.43,"b":67.02,"v1":1.25236,"v2":1.2485,"c":1.25043,"txt":"1,2509","ind":"st"},
 {"a":64.43,"b":67.02,"v1":1.24156,"v2":1.23745,"c":1.2395,"txt":"1,2397","ind":"boll"},
 {"a":64.43,"b":67.02,"v1":1.22408,"v2":1.22022,"c":1.22215,"txt":"1,2224","ind":"boll"},
 {"a":64.43,"b":67.02,"v1":1.22922,"v2":1.22536,"c":1.22729,"txt":"1,2275","ind":"sar"},
 {"a":64.27,"b":67.02,"v1":1.22202,"v2":1.21816,"c":1.22009,"txt":"1,2206","ind":"price"}]},
 "layer":[
  {"mark":{"type":"rect","stroke":"#000000","strokeWidth":1},
   "encoding":{"x":{"field":"a","type":"quantitative"},"x2":{"field":"b"},"y":{"field":"v1","type":"quantitative"},"y2":{"field":"v2"},
    "fill":{"condition":{"test":"datum.ind=='price'","value":"#ffc000"},"value":"#ffffff"}}},
  {"mark":{"type":"text","align":"center","baseline":"middle","fontSize":13},
   "encoding":{"x":{"datum":65.73,"type":"quantitative"},"y":{"field":"c","type":"quantitative"},"text":{"field":"txt"},
    "color":{"field":"ind","type":"nominal","scale":{"domain":["boll","st","sar","price"],"range":["#8000c0","#f86a6a","#4cc84c","#000000"]},"legend":null}}}
 ]}
]
}
